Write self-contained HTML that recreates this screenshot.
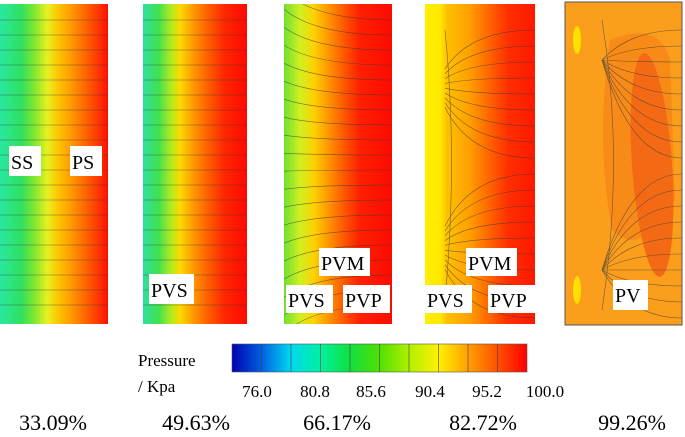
<!DOCTYPE html>
<html><head><meta charset="utf-8"><style>
body{margin:0;background:#fff;}
svg{display:block;}
text{font-family:"Liberation Serif","DejaVu Serif",serif;}
</style></head><body>
<svg width="685" height="437" viewBox="0 0 685 437" font-family="Liberation Serif, serif">
<defs>
<linearGradient id="g1" x1="0" x2="1">
<stop offset="0" stop-color="#28e8a0"/><stop offset="0.2" stop-color="#30e060"/><stop offset="0.32" stop-color="#80e830"/><stop offset="0.44" stop-color="#e8f020"/><stop offset="0.55" stop-color="#ffc000"/><stop offset="0.66" stop-color="#ff9a00"/><stop offset="0.78" stop-color="#ff6a00"/><stop offset="0.9" stop-color="#ff3a00"/><stop offset="1" stop-color="#ff1000"/></linearGradient>
<linearGradient id="g2" x1="0" x2="1">
<stop offset="0" stop-color="#30e0a0"/><stop offset="0.15" stop-color="#40e050"/><stop offset="0.27" stop-color="#b0ec20"/><stop offset="0.36" stop-color="#ffd800"/><stop offset="0.48" stop-color="#ff9a00"/><stop offset="0.62" stop-color="#ff6000"/><stop offset="0.78" stop-color="#ff2800"/><stop offset="1" stop-color="#ff0800"/></linearGradient>
<linearGradient id="g3" x1="0" x2="1">
<stop offset="0" stop-color="#70e030"/><stop offset="0.15" stop-color="#d0f020"/><stop offset="0.28" stop-color="#ffd000"/><stop offset="0.4" stop-color="#ff9a00"/><stop offset="0.55" stop-color="#ff5a00"/><stop offset="0.7" stop-color="#ff2000"/><stop offset="1" stop-color="#ff0a00"/></linearGradient>
<linearGradient id="g4" x1="0" x2="1">
<stop offset="0" stop-color="#fff000"/><stop offset="0.14" stop-color="#ffe800"/><stop offset="0.2" stop-color="#ffc000"/><stop offset="0.4" stop-color="#ffa000"/><stop offset="0.55" stop-color="#ff7000"/><stop offset="0.75" stop-color="#ff3000"/><stop offset="1" stop-color="#ff1800"/></linearGradient>
<linearGradient id="cb" x1="0" x2="1">
<stop offset="0" stop-color="#0000b0"/><stop offset="0.1" stop-color="#0060e0"/><stop offset="0.2" stop-color="#00d8f0"/><stop offset="0.3" stop-color="#00f0a0"/><stop offset="0.4" stop-color="#10e040"/><stop offset="0.5" stop-color="#50e000"/><stop offset="0.6" stop-color="#b0f000"/><stop offset="0.7" stop-color="#fff000"/><stop offset="0.8" stop-color="#ffa000"/><stop offset="0.9" stop-color="#ff5000"/><stop offset="1" stop-color="#ff0000"/></linearGradient>
<clipPath id="c3"><rect x="284" y="4" width="108" height="320"/></clipPath>
<clipPath id="c4"><rect x="425" y="4" width="110" height="320"/></clipPath>
<clipPath id="c5"><rect x="565" y="2" width="117" height="323"/></clipPath>
</defs>

<g>
<rect x="0" y="4" width="108" height="320" fill="url(#g1)"/>
</g>
<g>
<rect x="143" y="4" width="104" height="320" fill="url(#g2)"/>
</g>
<g>
<rect x="284" y="4" width="108" height="320" fill="url(#g3)"/>
</g>
<g>
<rect x="425" y="4" width="110" height="320" fill="url(#g4)"/>
</g>
<g>
<rect x="565" y="2" width="117" height="323" fill="#fa9e1c"/>
<path d="M610 40 Q660 20 670 60 L675 200 Q640 260 612 230 Q595 140 610 40Z" fill="#f88a18"/>
<ellipse cx="652" cy="165" rx="20" ry="112" fill="#f46a14" transform="rotate(-4 652 165)"/>
<ellipse cx="577" cy="40" rx="4" ry="14" fill="#ffe000"/>
<ellipse cx="577" cy="290" rx="4" ry="14" fill="#ffe000"/>
<rect x="565" y="2" width="117" height="323" fill="none" stroke="#555" stroke-width="1"/>
</g>
<g id="streams" stroke="#3a3a3a" stroke-width="0.6" fill="none" opacity="0.7"></g>
<g id="streams3" clip-path="url(#c3)" stroke="#3a3a3a" stroke-width="0.6" fill="none" opacity="0.7"></g>
<g id="streams4" clip-path="url(#c4)" stroke="#3a3a3a" stroke-width="0.6" fill="none" opacity="0.7"></g>
<g id="streams5" clip-path="url(#c5)" stroke="#3a3a3a" stroke-width="0.6" fill="none" opacity="0.7"></g>

<g font-size="20">
<rect x="9" y="146" width="32" height="30" fill="#fff"/><text x="11" y="169">SS</text>
<rect x="70" y="146" width="32" height="30" fill="#fff"/><text x="72" y="169">PS</text>
<rect x="149" y="274" width="45" height="30" fill="#fff"/><text x="151" y="297">PVS</text>
<rect x="319" y="248" width="51" height="28" fill="#fff"/><text x="321" y="270">PVM</text>
<rect x="286" y="285" width="47" height="28" fill="#fff"/><text x="288" y="307">PVS</text>
<rect x="343" y="285" width="47" height="28" fill="#fff"/><text x="345" y="307">PVP</text>
<rect x="466" y="248" width="51" height="28" fill="#fff"/><text x="468" y="270">PVM</text>
<rect x="425" y="285" width="47" height="28" fill="#fff"/><text x="427" y="307">PVS</text>
<rect x="488" y="285" width="47" height="28" fill="#fff"/><text x="490" y="307">PVP</text>
<rect x="613" y="280" width="35" height="30" fill="#fff"/><text x="615" y="302">PV</text>
</g>

<g>
<rect x="232" y="344" width="295" height="28" fill="url(#cb)" stroke="#555" stroke-width="0.6"/>
<g id="cbticks" stroke="#444" stroke-width="0.6"></g>
<text x="138" y="366" font-size="17">Pressure</text>
<text x="138" y="392" font-size="17">/ Kpa</text>
<g font-size="17" text-anchor="middle">
<text x="257" y="397">76.0</text><text x="315" y="397">80.8</text><text x="371" y="397">85.6</text><text x="430" y="397">90.4</text><text x="487" y="397">95.2</text><text x="545" y="397">100.0</text>
</g>
</g>
<g font-size="22" text-anchor="middle">
<text x="53" y="430">33.09%</text><text x="196" y="430">49.63%</text><text x="337" y="430">66.17%</text><text x="483" y="430">82.72%</text><text x="632" y="430">99.26%</text>
</g>
</svg>
<script>
var ns="http://www.w3.org/2000/svg";
function line(gid,d){var p=document.createElementNS(ns,"path");p.setAttribute("d",d);


document.getElementById(gid).appendChild(p);}
for(var y=20;y<320;y+=15){
 line("streams","M0 "+y+" L108 "+y);
 line("streams","M143 "+y+" L247 "+y);
 var c=(y-164)*0.2;
 line("streams3","M284 "+(y+c)+" Q315 "+y+" 392 "+y);
}
for(var y=30;y<320;y+=16){
 line("streams4","M445 "+(y<165?60+y*0.3:270-(320-y)*0.3)+" Q470 "+y+" 535 "+y);
 line("streams5","M602 "+(y<165?60:270)+" Q630 "+y+" 682 "+y);
}
line("streams4","M445 30 Q458 160 445 300");line("streams5","M602 20 Q625 160 602 310");
var t=document.getElementById("cbticks");
for(var i=1;i<10;i++){var l=document.createElementNS(ns,"line");var x=232+29.5*i;
l.setAttribute("x1",x);l.setAttribute("x2",x);l.setAttribute("y1",344);l.setAttribute("y2",372);


t.appendChild(l);}
</script>
</body></html>
